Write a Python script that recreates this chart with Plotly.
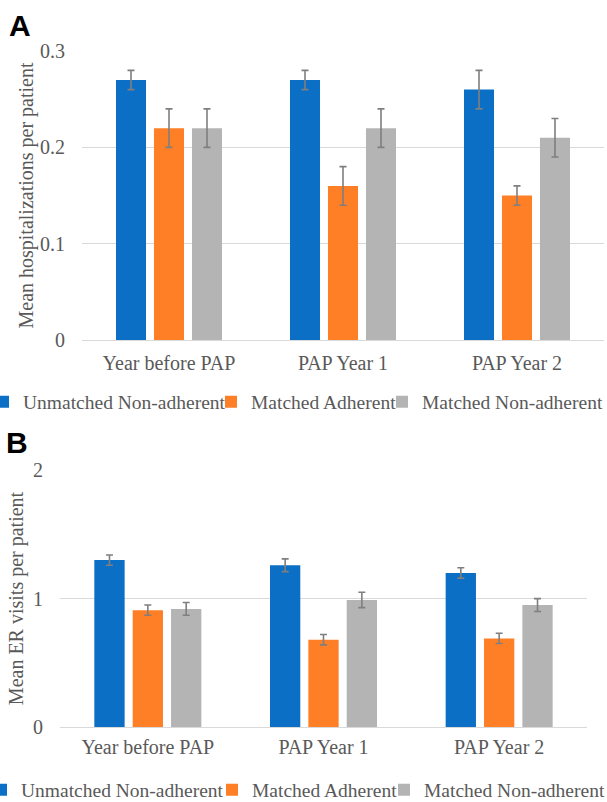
import plotly.graph_objects as go

W, H = 607, 802

categories = ["Year before PAP", "PAP Year 1", "PAP Year 2"]
series_names = ["Unmatched Non-adherent", "Matched Adherent", "Matched Non-adherent"]
colors = ["#0A6FC5", "#FF7F27", "#B4B4B4"]

# Panel A: mean hospitalizations per patient
hosp_unmatched_nonadh = [0.27, 0.27, 0.26]
hosp_matched_adh = [0.22, 0.16, 0.15]
hosp_matched_nonadh = [0.22, 0.22, 0.21]
hosp_err_unmatched_nonadh = [0.01, 0.01, 0.02]
hosp_err_matched_adh = [0.02, 0.02, 0.01]
hosp_err_matched_nonadh = [0.02, 0.02, 0.02]

# Panel B: mean ER visits per patient
er_unmatched_nonadh = [1.30, 1.26, 1.20]
er_matched_adh = [0.91, 0.68, 0.69]
er_matched_nonadh = [0.92, 0.99, 0.95]
er_err_unmatched_nonadh = [0.04, 0.05, 0.04]
er_err_matched_adh = [0.04, 0.04, 0.04]
er_err_matched_nonadh = [0.05, 0.06, 0.05]

A_vals = [hosp_unmatched_nonadh, hosp_matched_adh, hosp_matched_nonadh]
A_errs = [hosp_err_unmatched_nonadh, hosp_err_matched_adh, hosp_err_matched_nonadh]
B_vals = [er_unmatched_nonadh, er_matched_adh, er_matched_nonadh]
B_errs = [er_err_unmatched_nonadh, er_err_matched_adh, er_err_matched_nonadh]

SERIF = "Liberation Serif, Times New Roman, serif"
TXT = "#595959"
GRID = "#D9D9D9"

fig = go.Figure()

legend_names = ["legend", "legend2", "legend3", "legend4", "legend5", "legend6"]

for i in range(3):
    fig.add_trace(go.Bar(
        x=categories, y=A_vals[i], name=series_names[i],
        marker=dict(color=colors[i], line=dict(width=0)),
        error_y=dict(type="data", array=A_errs[i], visible=True,
                     color="#7F7F7F", thickness=1.6, width=3.5),
        xaxis="x", yaxis="y", legend=legend_names[i], showlegend=True,
    ))
for i in range(3):
    fig.add_trace(go.Bar(
        x=categories, y=B_vals[i], name=series_names[i],
        marker=dict(color=colors[i], line=dict(width=0)),
        error_y=dict(type="data", array=B_errs[i], visible=True,
                     color="#7F7F7F", thickness=1.6, width=3.5),
        xaxis="x2", yaxis="y2", legend=legend_names[3 + i], showlegend=True,
    ))

def px_x(p):
    return p / W

def px_y(p):
    return 1 - p / H

common_x = dict(showgrid=False, showline=False, ticks="", zeroline=False,
                tickfont=dict(family=SERIF, size=20, color=TXT))
common_y = dict(showgrid=True, gridcolor=GRID, gridwidth=1, zeroline=True,
                zerolinecolor=GRID, zerolinewidth=1, showline=False, ticks="",
                tickfont=dict(family=SERIF, size=20, color=TXT),
                ticklabelstandoff=16)

layout = dict(
    width=W, height=H,
    margin=dict(l=0, r=0, t=0, b=0, autoexpand=False),
    paper_bgcolor="white", plot_bgcolor="white",
    showlegend=True,
    barmode="group", bargap=0.345, bargroupgap=0.21,
    xaxis=dict(domain=[px_x(82), px_x(604)], anchor="y", range=[-0.5, 2.5],
               ticklabelstandoff=9, **common_x),
    yaxis=dict(domain=[px_y(340), px_y(51)], anchor="x", range=[0, 0.3001],
               tickvals=[0, 0.1, 0.2, 0.3], ticktext=["0", "0.1", "0.2", "0.3"],
               title=dict(text="Mean hospitalizations per patient", standoff=1,
                          font=dict(family=SERIF, size=20, color=TXT)),
               **common_y),
    xaxis2=dict(domain=[px_x(60), px_x(587)], anchor="y2", range=[-0.5, 2.5],
                ticklabelstandoff=6, **common_x),
    yaxis2=dict(domain=[px_y(727), px_y(470)], anchor="x2", range=[0, 2.002],
                tickvals=[0, 1, 2], ticktext=["0", "1", "2"],
                title=dict(text="Mean ER visits per patient", standoff=4,
                           font=dict(family=SERIF, size=20, color=TXT)),
                **common_y),
)

legA_starts = [-17, 211, 382]
legB_starts = [-19, 212, 384]
for i in range(3):
    layout[legend_names[i]] = dict(
        visible=True,
        x=px_x(legA_starts[i]), xanchor="left", y=px_y(402), yanchor="middle",
        orientation="h", bgcolor="rgba(0,0,0,0)",
        font=dict(family=SERIF, size=19.5, color=TXT),
    )
    layout[legend_names[3 + i]] = dict(
        visible=True,
        x=px_x(legB_starts[i]), xanchor="left", y=px_y(790), yanchor="middle",
        orientation="h", bgcolor="rgba(0,0,0,0)",
        font=dict(family=SERIF, size=19.5, color=TXT),
    )

fig.update_layout(**layout)

fig.add_annotation(text="<b>A</b>", xref="paper", yref="paper",
                   x=px_x(20), y=px_y(25), xanchor="center", yanchor="middle",
                   showarrow=False,
                   font=dict(family="Liberation Sans, Arial, sans-serif", size=30, color="black"))
fig.add_annotation(text="<b>B</b>", xref="paper", yref="paper",
                   x=px_x(17), y=px_y(442), xanchor="center", yanchor="middle",
                   showarrow=False,
                   font=dict(family="Liberation Sans, Arial, sans-serif", size=30, color="black"))

fig.write_html("out.html", config={"displayModeBar": False},
               post_script="document.body.style.margin='0px';")
